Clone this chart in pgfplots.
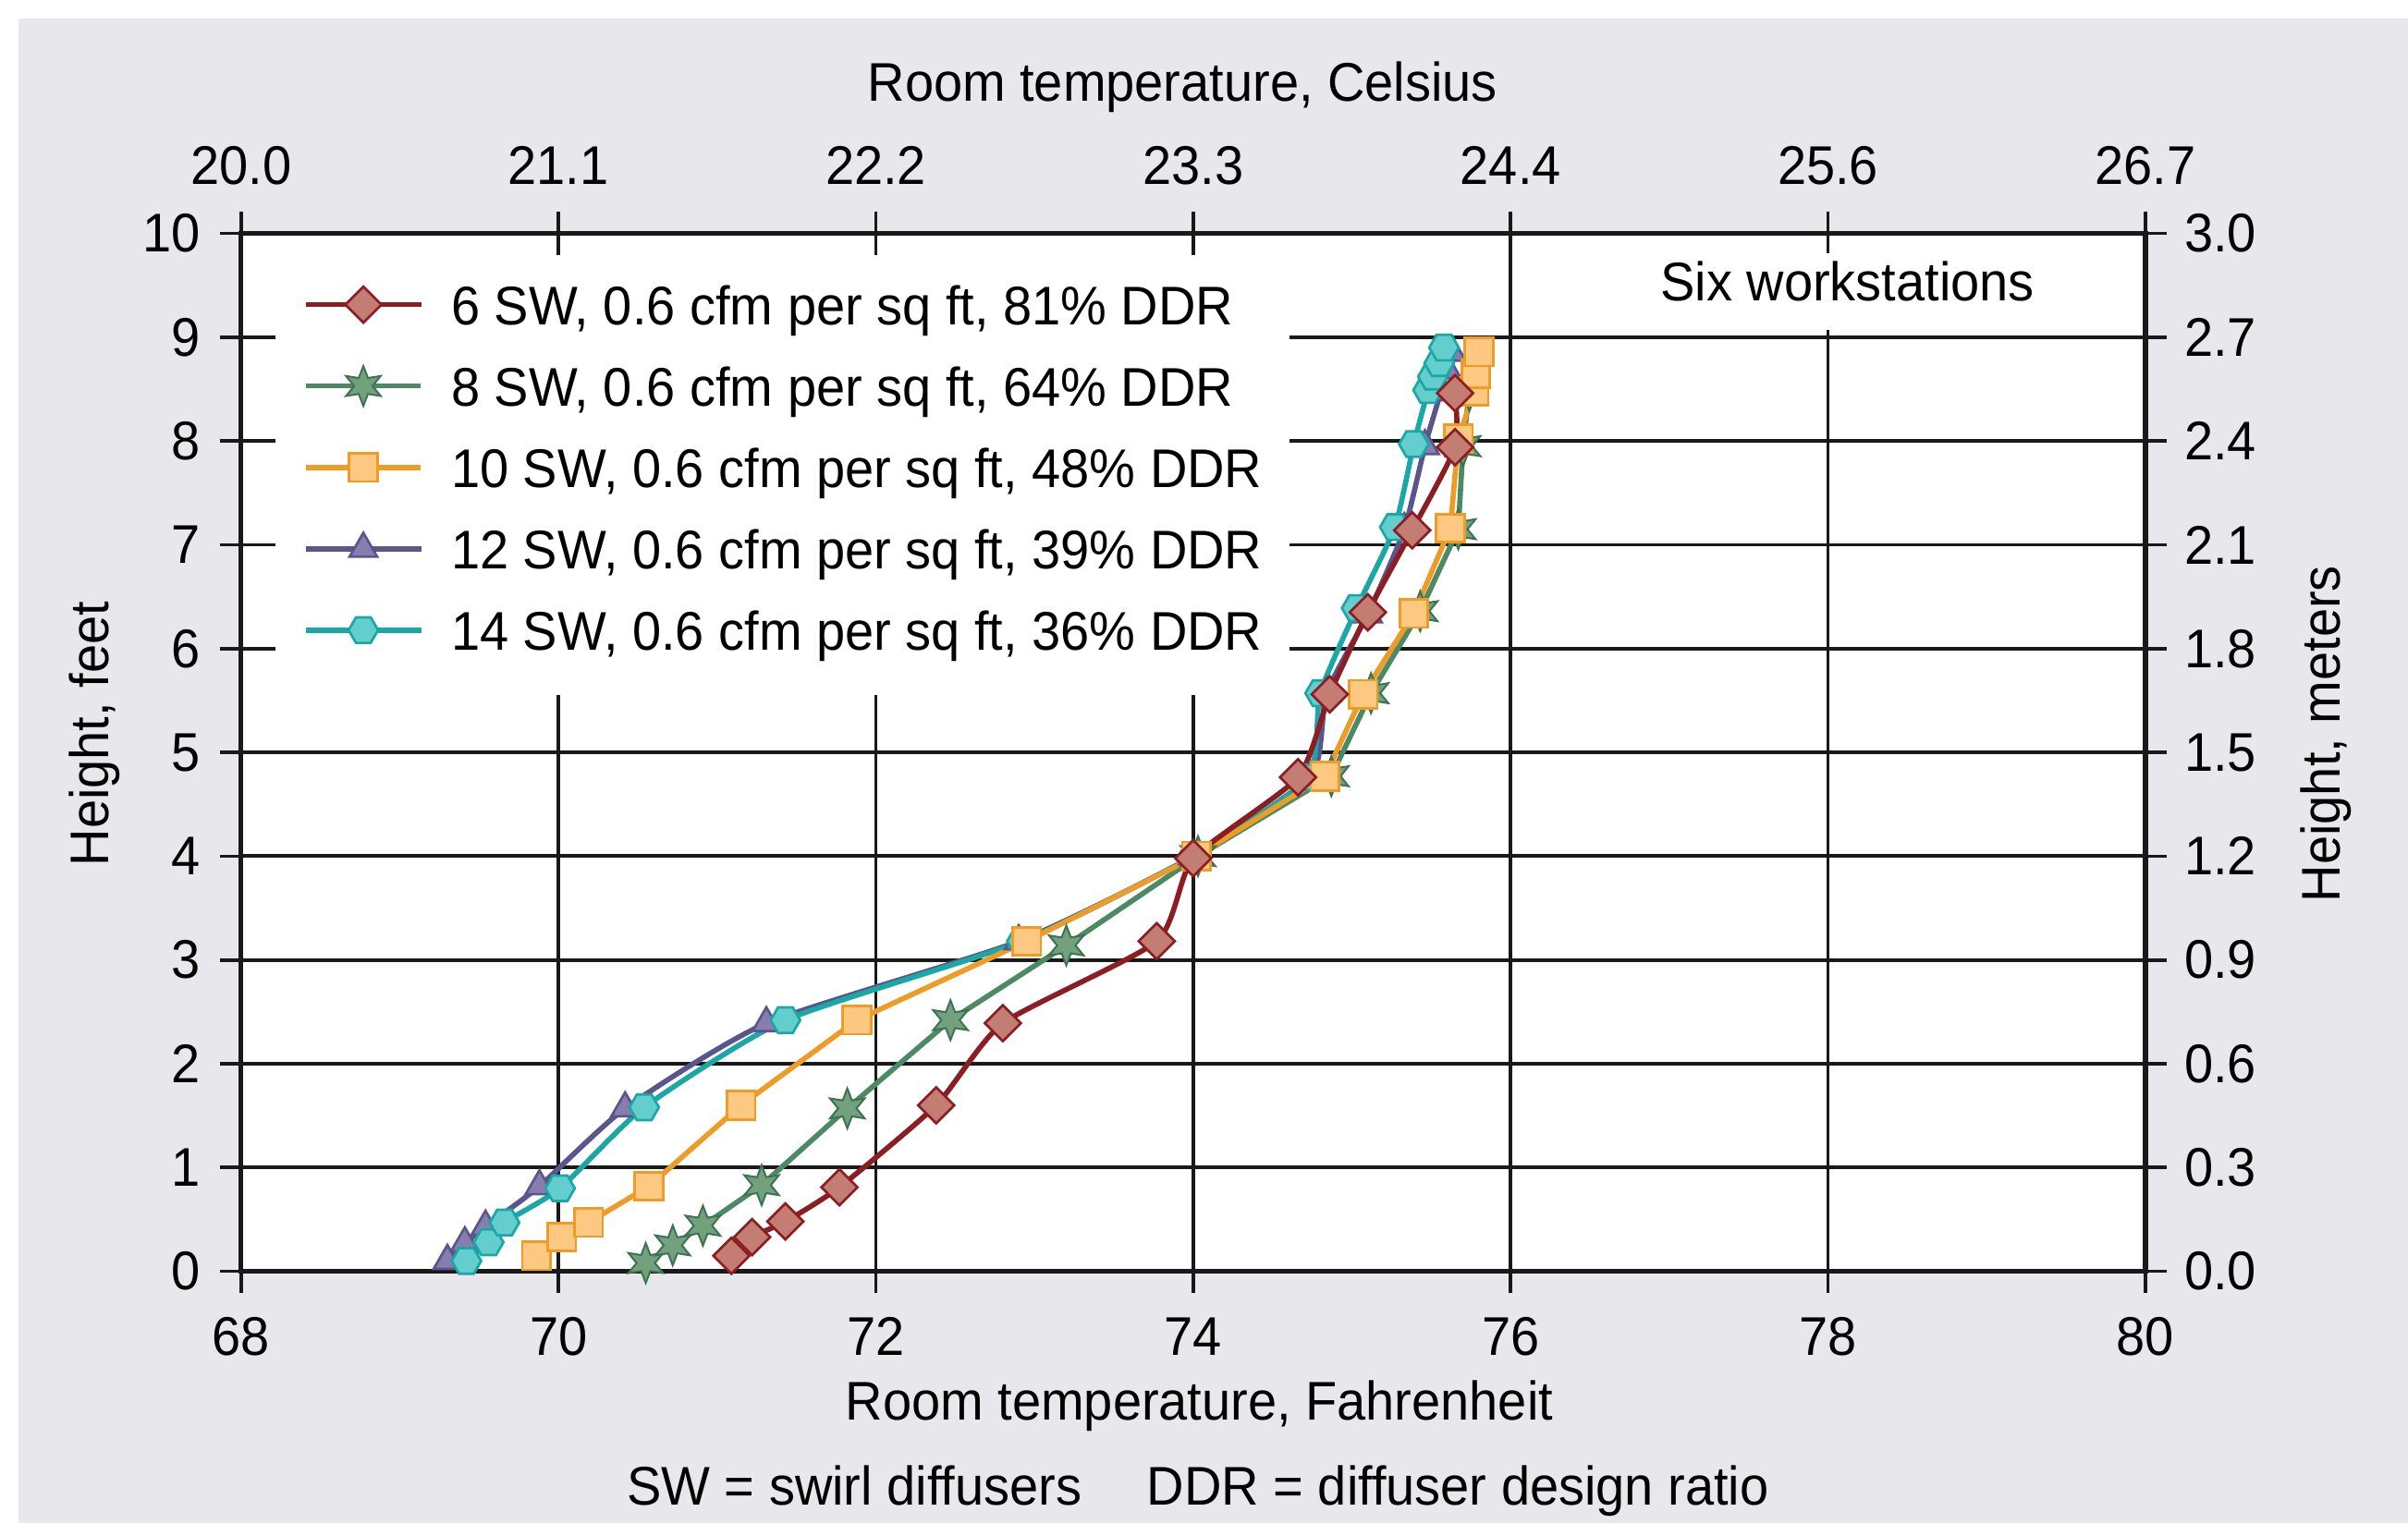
\documentclass[border=0pt]{standalone}
\usepackage{fontspec}
\setmainfont{Liberation Sans}[FakeStretch=0.95]
\usepackage{pgfplots}
\pgfplotsset{compat=1.18}
\usetikzlibrary{plotmarks}
\definecolor{bggrey}{RGB}{232,231,235}
\definecolor{gridc}{RGB}{25,25,25}
\definecolor{c1l}{RGB}{140,30,35}
\definecolor{c1f}{RGB}{196,125,115}
\definecolor{c2l}{RGB}{75,138,100}
\definecolor{c2f}{RGB}{115,160,125}
\definecolor{c2e}{RGB}{60,115,80}
\definecolor{c3l}{RGB}{239,156,39}
\definecolor{c3f}{RGB}{253,200,130}
\definecolor{c4l}{RGB}{90,85,140}
\definecolor{c4f}{RGB}{135,125,175}
\definecolor{c5l}{RGB}{25,168,165}
\definecolor{c5f}{RGB}{100,205,205}
\newcommand{\ff}{\fontsize{17.8}{21}\selectfont}
\pgfdeclareplotmark{hexagon*}{%
  \pgfpathmoveto{\pgfqpoint{\pgfplotmarksize}{0pt}}%
  \pgfpathlineto{\pgfqpoint{0.5\pgfplotmarksize}{0.866\pgfplotmarksize}}%
  \pgfpathlineto{\pgfqpoint{-0.5\pgfplotmarksize}{0.866\pgfplotmarksize}}%
  \pgfpathlineto{\pgfqpoint{-\pgfplotmarksize}{0pt}}%
  \pgfpathlineto{\pgfqpoint{-0.5\pgfplotmarksize}{-0.866\pgfplotmarksize}}%
  \pgfpathlineto{\pgfqpoint{0.5\pgfplotmarksize}{-0.866\pgfplotmarksize}}%
  \pgfpathclose\pgfusepathqfillstroke}
\pgfdeclareplotmark{star6*}{%
  \pgfpathmoveto{\pgfqpoint{0pt}{\pgfplotmarksize}}%
  \pgfpathlineto{\pgfqpoint{-0.23\pgfplotmarksize}{0.4\pgfplotmarksize}}%
  \pgfpathlineto{\pgfqpoint{-0.866\pgfplotmarksize}{0.5\pgfplotmarksize}}%
  \pgfpathlineto{\pgfqpoint{-0.46\pgfplotmarksize}{0pt}}%
  \pgfpathlineto{\pgfqpoint{-0.866\pgfplotmarksize}{-0.5\pgfplotmarksize}}%
  \pgfpathlineto{\pgfqpoint{-0.23\pgfplotmarksize}{-0.4\pgfplotmarksize}}%
  \pgfpathlineto{\pgfqpoint{0pt}{-\pgfplotmarksize}}%
  \pgfpathlineto{\pgfqpoint{0.23\pgfplotmarksize}{-0.4\pgfplotmarksize}}%
  \pgfpathlineto{\pgfqpoint{0.866\pgfplotmarksize}{-0.5\pgfplotmarksize}}%
  \pgfpathlineto{\pgfqpoint{0.46\pgfplotmarksize}{0pt}}%
  \pgfpathlineto{\pgfqpoint{0.866\pgfplotmarksize}{0.5\pgfplotmarksize}}%
  \pgfpathlineto{\pgfqpoint{0.23\pgfplotmarksize}{0.4\pgfplotmarksize}}%
  \pgfpathclose\pgfusepathqfillstroke}
\pgfplotsset{
  sA/.style={c1l, line width=1.7bp, smooth, tension=0.35, mark=square*, mark size=4.15bp,
    mark options={solid, rotate=45, fill=c1f, draw=c1l, line width=0.8bp}},
  sB/.style={c2l, line width=1.7bp, mark=star6*, mark size=6.5bp,
    mark options={solid, fill=c2f, draw=c2e, line width=0.6bp}},
  sC/.style={c3l, line width=1.7bp, mark=square*, mark size=4.6bp,
    mark options={solid, fill=c3f, draw=c3l, line width=0.8bp}},
  sD/.style={c4l, line width=1.7bp, smooth, tension=0.35, mark=triangle*, mark size=5.2bp,
    mark options={solid, fill=c4f, draw=c4l, line width=0.8bp}},
  sE/.style={c5l, line width=1.7bp, smooth, tension=0.35, mark=hexagon*, mark size=4.8bp,
    mark options={solid, fill=c5f, draw=c5l, line width=0.8bp}},
}
\pgfplotstableread{
T H
71.09 0.15
71.22 0.33
71.43 0.48
71.77 0.81
72.38 1.60
72.80 2.39
73.77 3.18
74.00 3.98
74.66 4.76
74.86 5.56
75.10 6.35
75.38 7.14
75.65 7.94
75.65 8.46
}\datA
\pgfplotstableread{
T H
70.55 0.08
70.72 0.25
70.91 0.44
71.28 0.83
71.82 1.57
72.47 2.42
73.20 3.14
74.03 4.00
74.87 4.77
75.12 5.57
75.43 6.36
75.67 7.15
75.70 7.95
75.74 8.48
}\datB
\pgfplotstableread{
T H
69.86 0.15
70.02 0.33
70.19 0.47
70.57 0.82
71.15 1.60
71.88 2.42
72.95 3.18
74.02 4.00
74.83 4.77
75.07 5.56
75.39 6.34
75.62 7.16
75.67 8.02
75.77 8.48
75.78 8.65
75.80 8.86
}\datC
\pgfplotstableread{
T H
69.30 0.10
69.41 0.27
69.54 0.43
69.88 0.82
70.42 1.57
71.31 2.39
72.90 3.18
74.00 4.00
74.74 4.76
74.84 5.57
75.10 6.33
75.33 7.15
75.46 7.95
75.56 8.47
75.60 8.68
75.63 8.85
}\datD
\pgfplotstableread{
T H
69.42 0.10
69.56 0.28
69.66 0.47
70.01 0.80
70.54 1.58
71.43 2.42
72.92 3.18
74.00 4.00
74.72 4.76
74.80 5.57
75.03 6.39
75.27 7.17
75.39 7.97
75.48 8.49
75.51 8.62
75.55 8.75
75.58 8.90
}\datE
\begin{document}
\begin{tikzpicture}
\fill[white] (-78.5bp,-82bp) rectangle (705.5bp,414bp);
\fill[bggrey] (-72.5bp,-82bp) rectangle (705.5bp,408bp);
\begin{axis}[
  at={(0,0)}, anchor=south west,
  scale only axis, width=620bp, height=338bp,
  xmin=68, xmax=80, ymin=0, ymax=10,
  xtick={68,70,...,80}, xticklabels={68,70,72,74,76,78,80},
  ytick={0,1,...,10}, yticklabels={0,1,2,3,4,5,6,7,8,9,10},
  xtick pos=left, ytick pos=left,
  tick align=center, major tick length=14bp,
  grid=major, major grid style={line width=1.15bp, gridc},
  axis line style={line width=1.6bp, gridc},
  every tick/.style={line width=1.1bp, gridc},
  axis background/.style={fill=white},
  tick label style={font=\ff},
  xticklabel style={anchor=base, inner sep=0pt, yshift=-20.5bp},
  yticklabel style={anchor=east, inner sep=0pt, xshift=-6bp},
  legend style={at={(0.01774,0.98373)}, anchor=north west, draw=none, fill=white,
    inner xsep=9bp, inner ysep=11bp, row sep=10bp, column sep=9bp, font=\ff,
    nodes={inner sep=0pt, text height=13bp, text depth=3.5bp},
    cells={anchor=base west}},
  legend image code/.code={\draw[mark repeat=2,mark phase=2,#1] plot coordinates {(0bp,6.5bp) (18.75bp,6.5bp) (37.5bp,6.5bp)};},
]
\addlegendimage{sA}\addlegendentry{6 SW, 0.6 cfm per sq ft, 81\% DDR}
\addlegendimage{sB}\addlegendentry{8 SW, 0.6 cfm per sq ft, 64\% DDR}
\addlegendimage{sC}\addlegendentry{10 SW, 0.6 cfm per sq ft, 48\% DDR}
\addlegendimage{sD}\addlegendentry{12 SW, 0.6 cfm per sq ft, 39\% DDR}
\addlegendimage{sE}\addlegendentry{14 SW, 0.6 cfm per sq ft, 36\% DDR}
\addplot[sD, forget plot] table[x=T,y=H] {\datD};
\addplot[sE, forget plot] table[x=T,y=H] {\datE};
\addplot[sB, forget plot] table[x=T,y=H] {\datB};
\addplot[sC, forget plot] table[x=T,y=H] {\datC};
\addplot[sA, forget plot] table[x=T,y=H] {\datA};
\end{axis}
\begin{axis}[
  at={(0,0)}, anchor=south west,
  scale only axis, width=620bp, height=338bp,
  xmin=68, xmax=80, ymin=0, ymax=10,
  axis line style={draw=none},
  xtick={68,70,...,80}, xticklabels={20.0,21.1,22.2,23.3,24.4,25.6,26.7},
  ytick={0,1,...,10}, yticklabels={0.0,0.3,0.6,0.9,1.2,1.5,1.8,2.1,2.4,2.7,3.0},
  xtick pos=right, ytick pos=right, xticklabel pos=right, yticklabel pos=right,
  tick align=center, major tick length=14bp,
  every tick/.style={line width=1.1bp, gridc},
  tick label style={font=\ff},
  xticklabel style={anchor=base, inner sep=0pt, yshift=9bp},
  yticklabel style={anchor=west, inner sep=0pt, xshift=5.5bp},
]
\addplot[draw=none, forget plot] coordinates {(70,1)};
\end{axis}
\fill[white] (451.5bp,306.5bp) rectangle (594bp,331.5bp);
\node[anchor=base, inner sep=0pt, font=\ff] at (523bp,316bp) {Six workstations};
\node[anchor=base, inner sep=0pt, font=\ff] at (306.5bp,381bp) {Room temperature, Celsius};
\node[anchor=base, inner sep=0pt, font=\ff] at (312bp,-48.5bp) {Room temperature, Fahrenheit};
\node[anchor=base, inner sep=0pt, font=\ff] at (311.5bp,-76bp) {SW = swirl diffusers\hspace{1.2em}DDR = diffuser design ratio};
\node[anchor=base, inner sep=0pt, font=\ff, rotate=90] at (-43bp,175bp) {Height, feet};
\node[anchor=base, inner sep=0pt, font=\ff, rotate=90] at (683.5bp,175bp) {Height, meters};
\pgfresetboundingbox
\path (-78.5bp,-82bp) rectangle (705.5bp,414bp);
\end{tikzpicture}
\end{document}
